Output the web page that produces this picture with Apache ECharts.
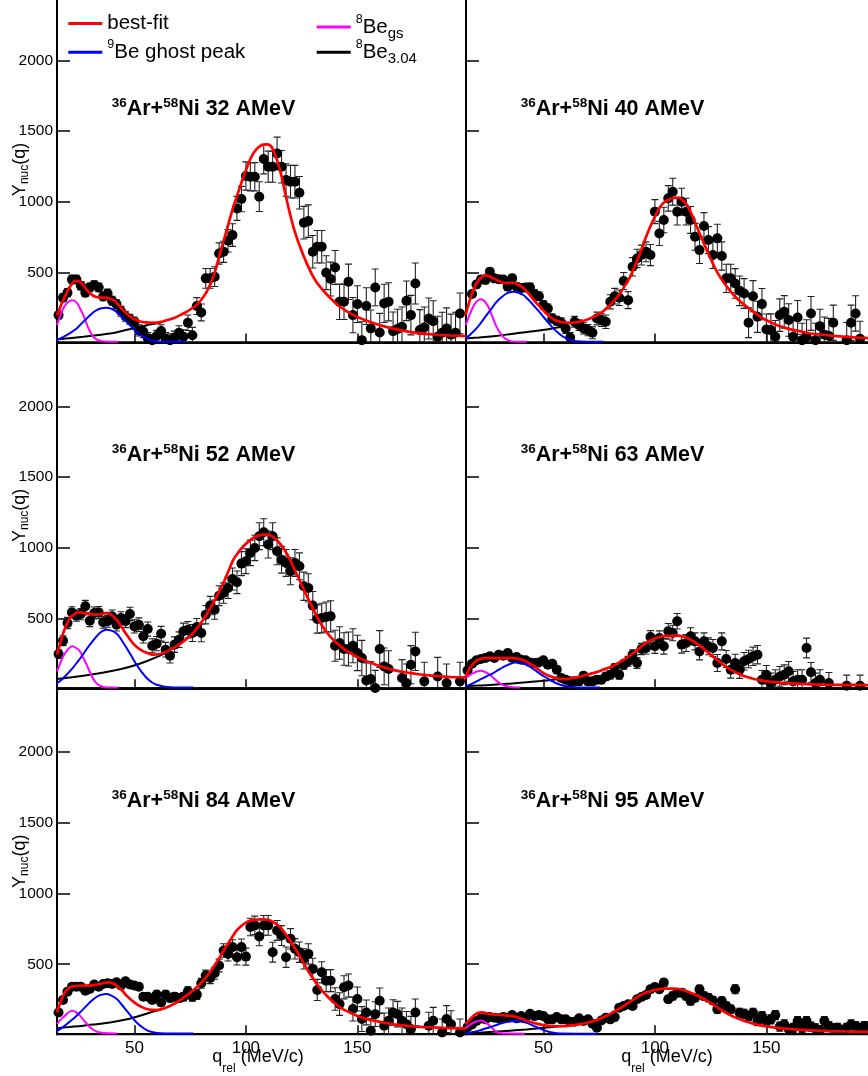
<!DOCTYPE html>
<html><head><meta charset="utf-8">
<script src="https://cdn.jsdelivr.net/npm/echarts@6/dist/echarts.min.js"></script>
<style>html,body{margin:0;padding:0;background:#fff}#c{width:868px;height:1076px}</style>
</head><body><div id="c"></div>
<script>
// ---------- DATA ----------
const energies = ['32', '40', '52', '63', '84', '95'];
const xTicks = [50, 100, 150];
const yTicks = [500, 1000, 1500, 2000];
const qRel = [16,18,20,22,24,26,28,30,32,34,36,38,40,42,44,46,48,50,52,54,56,58,60,62,64,66,68,70,72,74,76,78,80,82,84,86,88,90,92,94,96,98,100,102,104,106,108,110,112,114,116,118,120,122,124,126,128,130,132,134,136,138,140,142,144,146,148,150,152,154,156,158,160,162,164,166,168,170,172,174,176,178,180,182,184,186,188,190,192,194,196];

const y32 = [198,321,356,450,450,406,356,394,410,394, 330,350,300,275,225,190,168,150,90,80, 35,20,50,85,30,20,40,73,45,144, 56,262,217,458,458,470,634,646,724,764, 953,1019,1182,1177,1177,1036,1302,1248,1248,1342, 1248,1154,1142,1142,1064,852,863,646,682,682, 498,453,535,292,292,434,198,276,21,262, 104,394,75,281,292,85,100,115,299,198, 422,92,110,174,155,45,73,104,60,73, 210];
const e32 = [25,28,28,30,30,30,28,30,30,30, 30,32,32,32,35,35,35,35,40,40, 40,40,40,45,45,45,45,50,50,55, 55,60,60,70,70,70,75,75,80,80, 85,90,100,100,100,105,105,110,110,115, 115,115,115,115,115,115,115,115,115,115, 120,120,120,125,125,125,125,130,130,130, 130,130,135,135,135,135,140,140,140,140, 145,145,145,145,145,145,145,145,145,145, 145];

const y40 = [null,347,415,450,446,505,458,452,450,399, 458,399,390,394,394,347,332,269,245,174, 158,144,104,40,151,127,104,92,73,174, 163,151,292,332,321,439,304,540,599,623, 646,623,930,776,871,1024,1071,930,1000,930, 871,752,658,828,729,623,741,616,458,458, 422,370,351,144,332,186,276,96,92,45, 198,221,163,45,181,21,45,210,21,120, 60,50,144,null,null,21,144,210,30,null, null];
const e40 = [22,22,24,25,25,25,25,25,25,25, 25,25,28,28,30,30,30,30,32,32, 32,35,35,35,38,38,40,40,42,45, 45,48,50,55,55,60,60,65,65,70, 70,75,85,85,90,90,95,95,95,95, 95,95,95,95,95,95,100,100,100,100, 105,105,105,105,110,110,110,110,115,115, 115,115,115,115,120,120,120,120,120,120, 125,125,125,125,125,125,125,125,125,125, 125];

const y52 = [247,342,467,542,519,530,585,483,538,542, 472,479,514,455,502,479,531,443,455,373, 424,306,321,391,278,236,314,349,408,420, 396,439,396,526,590,561,660,679,715,778, 755,887,904,963,998,1081,1109,1022,1081,974, 915,892,833,892,868,727,715,590,495,502, 510,514,306,325,283,283,306,255,219,60, 70,7,283,160,141,null,null,78,42,172, 266,null,54,null,null,89,null,42,null,null, 54];
const e52 = [30,35,40,40,40,40,42,42,42,42, 42,42,45,45,45,45,47,47,48,48, 50,50,50,52,52,52,55,55,58,58, 60,60,62,65,65,68,70,72,75,78, 80,85,88,90,90,95,95,95,95,95, 95,95,95,95,95,100,100,100,100,105, 105,110,110,115,115,120,120,125,125,125, 125,125,130,130,130,130,130,130,135,135, 135,135,135,135,135,135,135,135,135,135, 135];

const y63 = [132,179,203,212,219,231,219,243,236,255, 219,226,207,203,188,184,188,203,172,179, 137,78,66,54,54,54,94,54,54,66, 66,89,101,148,101,172,196,243,184,283, 290,368,302,361,302,408,396,479,314,325, 373,337,266,337,302,290,184,337,212,137, 184,137,196,212,231,243,66,101,42,66, 89,101,125,54,66,66,290,118,42,66, null,42,null,null,null,23,null,null,23,null, null];
const e63 = [15,18,18,20,20,20,20,20,20,20, 20,20,20,20,20,20,20,20,22,22, 22,22,22,22,22,25,25,25,25,25, 28,28,30,30,32,32,35,35,38,40, 42,45,50,50,55,55,55,55,60,60, 60,60,60,60,60,60,60,60,60,60, 62,62,62,62,65,65,65,65,70,70, 70,70,70,70,70,70,70,70,70,70, 75,75,75,75,75,75,75,75,75,75, 75];

const y84 = [159,247,306,341,341,341,313,325,356,341, 360,365,360,372,349,379,356,349,341,270, 270,247,285,230,285,261,270,261,270,308, 270,285,365,420,403,436,491,597,573,621, 550,621,554,763,775,696,775,775,585,739, 703,550,680,609,585,538,573,467,318,443, 384,384,254,218,337,349,183,254,112,159, 29,147,242,65,100,159,147,100,76,41, 159,null,null,65,100,null,17,112,76,null, 17];
const e84 = [18,20,22,22,22,22,22,22,22,22, 22,22,22,22,22,22,22,22,22,22, 25,25,25,25,25,28,28,30,30,32, 32,35,35,38,40,42,45,48,50,52, 55,58,60,62,65,65,70,70,70,70, 70,72,72,72,72,72,72,75,75,75, 78,78,80,80,82,82,85,85,88,88, 88,88,90,90,90,90,90,90,90,90, 95,95,95,95,95,95,95,95,95,95, 95];

const y95 = [55,74,98,117,110,126,121,117,126,121, 140,117,133,121,150,133,140,133,110,110, 126,110,110,93,93,117,98,110,79,50, 102,121,110,126,192,204,216,204,252,268, 282,323,339,323,370,252,275,299,299,275, 240,263,323,275,263,244,181,240,204,181, 323,157,150,133,157,98,133,98,110,140, 59,74,42,50,98,50,98,59,47,35, 98,62,47,50,35,50,74,62,50,62, null];
const e95 = [10,10,12,12,12,12,12,12,12,12, 12,12,12,12,12,12,12,12,12,12, 12,12,12,12,12,12,12,12,12,14, 14,14,14,15,18,18,20,20,22,22, 22,25,25,25,25,25,28,28,28,28, 28,28,28,28,28,28,28,28,28,30, 32,32,32,32,32,32,32,32,32,32, 32,32,32,32,32,32,32,32,32,32, 32,32,32,32,32,32,32,32,32,32, 32];

// curves: [q, Y]
const fit32 = [[15.3,195],[17,265],[18.1,304],[19,335],[20.4,380],[22,420],[23.4,439],[25,438],[26.5,420],[28.6,378],[30,355],[31.6,335],[33,326],[34.6,323],[36,322],[37.6,320],[39,315],[40.6,304],[42,285],[43.6,257],[45,233],[46.5,210],[48,192],[49.5,174],[51,163],[52.5,153],[55.5,146],[58.5,144],[60,145],[61.5,148],[64.5,162],[67.5,176],[70.5,198],[73.4,221],[76.4,252],[78,270],[79.4,295],[82.4,363],[85.4,469],[88.4,634],[91.4,800],[94.4,965],[97.4,1106],[100.3,1236],[103.3,1342],[106.3,1394],[109.3,1406],[110.5,1403],[112.3,1366],[115.3,1224],[118.3,1012],[121.3,823],[124.3,682],[127.3,564],[130.2,469],[133.2,399],[137.7,321],[142.2,257],[148.2,198],[154.2,158],[161.6,120],[169.1,92],[176.6,73],[184.1,61],[191.5,54],[198.7,49]];
const ghost32 = [[15.3,21],[17.5,38],[19.6,56],[22,80],[24.1,104],[26.4,140],[28.6,174],[31,210],[33.1,233],[35.2,246],[37.3,250],[39.7,243],[42.1,221],[44.3,188],[46.5,151],[48.8,113],[51,80],[53.3,53],[55.5,33],[57.8,18],[60,12],[64.5,10],[73,10]];
const gs32 = [[15.3,127],[16.5,180],[18.1,245],[19.5,280],[20.4,292],[22.2,304],[23.3,298],[24.4,280],[25.8,240],[27.1,198],[28.3,150],[29.4,104],[30.5,72],[31.6,45],[33,27],[34.6,16],[37,11],[39.1,10],[42.8,10]];
const ex32 = [[15.3,26],[21,35],[27.1,45],[33,56],[39.1,68],[44,84],[49.5,104],[55,125],[60,140],[62,148]];

const fit40 = [[15.1,198],[17,304],[18.5,370],[20,422],[22,462],[23.8,481],[25.5,475],[27.5,458],[30,440],[32,427],[34,425],[36.5,427],[38.5,415],[40.2,399],[42,375],[44,340],[46,300],[48.5,257],[51,215],[53,186],[55,165],[57.5,151],[60,145],[61.9,144],[64,146],[66.4,151],[68.5,160],[70.9,174],[73,190],[75.4,210],[77.5,235],[79.9,269],[82,305],[84.4,351],[86.5,405],[88.9,469],[91,545],[93.4,635],[95.5,730],[97.9,823],[100,895],[102.4,965],[104.5,1000],[106.9,1019],[108.5,1027],[110.6,1029],[112.5,1010],[114.4,977],[116.5,910],[118.8,823],[121,740],[123.3,658],[125.5,580],[127.8,505],[130,450],[132.3,399],[134.5,355],[136.8,316],[139,285],[141.3,257],[144,225],[147.3,186],[151,155],[154.8,127],[158.5,108],[162.3,92],[166,80],[169.7,68],[173.5,62],[177.2,56],[181,50],[184.7,45],[189,41],[193.7,37],[197,36]];
const ghost40 = [[15.1,33],[17.5,65],[20,104],[22.3,150],[24.5,198],[26.8,245],[29,292],[31.2,325],[33.5,351],[35,360],[36.5,363],[38.5,358],[41,340],[43.2,308],[45.5,269],[47.8,228],[50,186],[52.2,145],[54.5,104],[56.7,72],[58.9,45],[61.2,27],[63.5,16],[66.4,11],[69.4,10],[77,10]];
const gs40 = [[15.1,127],[16.8,195],[18.5,257],[20.1,295],[21.8,311],[23.5,298],[25.3,257],[27.2,185],[29,115],[30.9,65],[32.8,33],[35.4,14],[38,10],[42.5,10]];
const ex40 = [[15.1,33],[21,40],[27.5,49],[33.5,60],[39.5,73],[45.5,84],[51.5,96],[55.5,108],[59,120],[61,128]];

const fit52 = [[15.3,243],[16.7,320],[18.1,396],[19.6,455],[21.1,502],[23,528],[24.9,542],[26.8,540],[28.6,533],[31,528],[33.1,526],[35.3,530],[37.6,538],[39.5,525],[41.3,502],[43.2,465],[45,420],[47.2,370],[49.5,321],[51.8,288],[54,266],[56.3,252],[58.5,243],[60.8,246],[63,255],[65.2,270],[67.5,290],[69.8,312],[72,337],[74.2,365],[76.4,396],[78.6,440],[80.9,491],[83.2,548],[85.4,609],[87.6,678],[89.9,750],[92.2,835],[94.4,915],[96.7,968],[98.9,1010],[101.1,1042],[103.3,1069],[105.6,1085],[107.8,1092],[110,1093],[111.6,1081],[113.4,1060],[115.3,1029],[117.5,980],[119.8,915],[122,840],[124.3,762],[126.5,685],[128.8,609],[131,538],[133.2,472],[135.5,418],[137.7,373],[140,336],[142.2,306],[145,272],[148.2,243],[151,218],[154.2,196],[158,174],[161.6,155],[165,139],[169.1,125],[173,115],[176.6,106],[180.5,99],[184.1,94],[188,89],[191.5,85],[195,83],[198.7,82]];
const ghost52 = [[15.3,42],[17.5,68],[19.6,101],[21.9,140],[24.1,184],[26.4,232],[28.6,283],[30.9,330],[33.1,373],[35.2,405],[37.3,420],[39.7,413],[42.1,391],[44.3,345],[46.5,290],[48.8,230],[51,172],[53.3,120],[55.5,78],[57.8,48],[60,30],[63,18],[66,12],[70,10],[76.5,10]];
const gs52 = [[15.3,125],[16.7,180],[18.1,231],[20.2,280],[22.2,302],[23.9,290],[25.6,266],[27.1,220],[28.6,172],[30.1,118],[31.6,70],[33.1,40],[34.6,23],[36.8,12],[39.1,10],[42.8,10]];
const ex52 = [[15.3,70],[21,82],[27.1,94],[33,108],[39.1,125],[45,145],[51,172],[56,200],[61.5,236],[64,255]];

const fit63 = [[15.1,85],[16,115],[17,148],[18.5,178],[20,200],[21.8,213],[23.8,219],[27.5,219],[32,219],[36.5,219],[39,212],[41,203],[43.2,186],[45.5,165],[47.8,138],[50,113],[52.2,95],[54.5,82],[56.7,74],[58.9,70],[61.2,72],[63.5,78],[65.7,85],[67.9,94],[70.2,103],[72.4,113],[74.7,124],[76.9,137],[79.2,150],[81.4,165],[83.7,185],[85.9,207],[88.2,230],[90.4,255],[92.7,285],[94.9,314],[97.2,337],[99.4,354],[101.6,366],[103.9,373],[106.1,376],[108.4,377],[110.6,377],[112.5,371],[114.4,361],[116.6,343],[118.8,321],[121,295],[123.3,266],[125.5,236],[127.8,207],[130,180],[132.3,153],[134.5,132],[136.8,113],[139,98],[141.3,85],[144,73],[147.3,61],[151,53],[154.8,47],[158.5,42],[162.3,38],[170,33],[177.2,30],[186,29],[195.8,28]];
const ghost63 = [[15.1,19],[18.3,40],[21.5,66],[24.5,90],[27.5,113],[29.8,135],[32,155],[34.7,175],[37.3,188],[40,184],[42.5,172],[44.8,150],[47,125],[49.2,100],[51.5,78],[54.5,50],[57.5,30],[60.5,20],[63.5,14],[68,10],[75.4,10]];
const gs63 = [[15.1,78],[16.8,97],[18.5,113],[20.2,124],[21.8,129],[23.9,120],[26,101],[27.9,75],[29.8,47],[31.7,30],[33.5,19],[36.5,12],[39.5,10]];
const ex63 = [[15.1,19],[21,25],[27.5,30],[35,38],[42.5,47],[48.5,56],[54.5,66],[57,70]];

const fit84 = [[15.3,159],[16.7,225],[18.1,278],[19.6,315],[21.1,337],[23.4,346],[25.6,349],[27.8,349],[30.1,349],[32.4,354],[34.6,360],[36.5,368],[38.3,372],[40.2,365],[42.1,349],[44.3,318],[46.5,278],[48.8,245],[51,218],[53.3,198],[55.5,183],[57.8,177],[60,176],[62.3,183],[64.5,195],[66.8,211],[69,230],[71.2,253],[73.4,278],[75.7,306],[77.9,337],[80.2,372],[82.4,412],[84.7,462],[86.9,514],[89.2,574],[91.4,632],[93.7,688],[95.9,739],[98.2,774],[100.4,798],[102.6,810],[104.8,815],[107,817],[109.3,815],[110.8,810],[113,790],[115.3,763],[117.5,720],[119.8,668],[122,612],[124.3,550],[126.5,490],[128.8,431],[131,378],[133.2,330],[135.5,290],[137.7,254],[140,222],[142.2,195],[145,170],[148.2,147],[151,128],[154.2,112],[158,99],[161.6,88],[165,78],[169.1,69],[173,63],[176.6,58],[180.5,55],[184.1,53],[188,50],[191.5,48],[195,46],[198.7,45]];
const ghost84 = [[15.3,29],[17.5,50],[19.6,76],[21.9,105],[24.1,136],[26.4,172],[28.6,207],[30.9,243],[33.1,270],[35.2,284],[37.3,289],[39.7,278],[42.1,254],[44.3,215],[46.5,171],[48.8,128],[51,88],[53.3,57],[55.5,34],[57.8,20],[60,13],[64,10],[70,10],[76.5,10]];
const gs84 = [[15.3,76],[17,110],[18.9,136],[20.5,160],[22.2,171],[23.9,160],[25.6,136],[27.5,100],[29.4,65],[31.2,40],[33.1,24],[35.3,15],[37.6,11],[42.1,10]];
const ex84 = [[15.3,48],[21,56],[27.1,65],[33,76],[39.1,88],[45,105],[51,129],[55.5,150],[60,172],[62,180]];

const fit95 = [[15.1,74],[16.5,100],[17.8,121],[19.3,142],[20.8,157],[22.3,160],[23.8,157],[25.6,150],[27.5,145],[29.7,142],[32,140],[34.2,137],[36.5,133],[38.7,123],[41,110],[43.2,97],[45.5,86],[47.8,76],[50,69],[52.2,65],[54.5,62],[56.7,61],[58.9,62],[61.2,65],[63.5,69],[65.7,74],[67.9,79],[70.2,88],[72.4,98],[74.7,111],[76.9,126],[79.2,143],[81.4,162],[83.7,183],[85.9,204],[88.2,228],[90.4,252],[92.7,273],[94.9,292],[97.2,305],[99.4,315],[101.6,322],[103.9,327],[106.1,328],[108.4,327],[111.4,323],[113.6,313],[115.9,299],[118.1,285],[120.3,268],[122.6,248],[124.8,228],[127,205],[129.3,181],[131.5,160],[133.8,140],[136,124],[138.3,110],[140.5,97],[142.8,86],[145,76],[147.3,67],[151,58],[154.8,50],[158.5,44],[162.3,39],[170,32],[177.2,27],[186,24],[195.8,22]];
const ghost95 = [[15.1,10],[18.3,20],[21.5,32],[24.5,47],[27.5,62],[29.8,75],[32,86],[34.7,94],[37.3,98],[40,94],[42.5,86],[44.8,70],[47,55],[49.2,40],[51.5,27],[54.5,15],[57.5,10],[65,9],[74,9]];
const gs95 = [[15.1,46],[16.8,68],[18.5,86],[20.2,97],[21.8,102],[23.5,92],[25.3,74],[27.2,45],[29,22],[31.2,12],[33.5,10],[41.7,9]];
const ex95 = [[15.1,10],[21,16],[27.5,22],[35,30],[42.5,39],[48,47],[53,55],[56,60]];

// ---------- CHART ----------
const FONT = '"Liberation Sans", Arial, Helvetica, sans-serif';
const panels = [
  {y: y32, e: e32, fit: fit32, ghost: ghost32, gs: gs32, ex: ex32},
  {y: y40, e: e40, fit: fit40, ghost: ghost40, gs: gs40, ex: ex40},
  {y: y52, e: e52, fit: fit52, ghost: ghost52, gs: gs52, ex: ex52},
  {y: y63, e: e63, fit: fit63, ghost: ghost63, gs: gs63, ex: ex63},
  {y: y84, e: e84, fit: fit84, ghost: ghost84, gs: gs84, ex: ex84},
  {y: y95, e: e95, fit: fit95, ghost: ghost95, gs: gs95, ex: ex95}
];
const gridLefts = [57, 466], gridTops = [-3.5, 342.4, 688.3];
const GW = 409, GH = 345.9;
const X_MIN = 15.3, X_MAX = 198.7, Y_MIN = 5, Y_MAX = 2452;

function renderErr(params, api) {
  const x = api.value(0), y = api.value(1), e = api.value(2);
  const hi = api.coord([x, y + e]);
  const lo = api.coord([x, y - e]);
  const w = 3.5;
  const style = {stroke: '#222', lineWidth: 1.1};
  return {type: 'group', children: [
    {type: 'line', shape: {x1: hi[0], y1: hi[1], x2: lo[0], y2: lo[1]}, style: style},
    {type: 'line', shape: {x1: hi[0] - w, y1: hi[1], x2: hi[0] + w, y2: hi[1]}, style: style},
    {type: 'line', shape: {x1: lo[0] - w, y1: lo[1], x2: lo[0] + w, y2: lo[1]}, style: style}
  ]};
}

const grids = [], xAxes = [], yAxes = [], series = [], titles = [];
panels.forEach(function (p, i) {
  const col = i % 2, row = Math.floor(i / 2);
  const left = gridLefts[col], top = gridTops[row];
  grids.push({left: left, top: top, width: GW, height: GH, show: true, containLabel: false,
    outerBoundsMode: 'none',
    borderColor: '#000', borderWidth: 2, backgroundColor: 'transparent'});
  xAxes.push({
    gridIndex: i, type: 'value', min: X_MIN, max: X_MAX,
    axisLine: {show: true, onZero: false, lineStyle: {color: '#000', width: 2}},
    axisTick: {show: true, inside: true, length: 9, customValues: xTicks, lineStyle: {color: '#000', width: 1.5}},
    axisLabel: {show: row === 2, customValues: xTicks, margin: 6, fontSize: 17, color: '#000', fontFamily: FONT,
      formatter: function (v) { return String(v); }},
    splitLine: {show: false},
    name: row === 2 ? '{q|q}{sub|rel}{m| (MeV/c)}' : '',
    nameLocation: 'middle', nameGap: 14, nameMoveOverlap: false,
    nameTextStyle: {color: '#000', fontFamily: FONT, padding: [0, 7, 0, 0], rich: {
      q: {fontSize: 18, lineHeight: 20, verticalAlign: 'top', fontFamily: FONT, color: '#000'},
      m: {fontSize: 18, lineHeight: 20, verticalAlign: 'top', fontFamily: FONT, color: '#000'},
      sub: {fontSize: 12, lineHeight: 12, padding: [14, 0, 0, 0], verticalAlign: 'top', fontFamily: FONT, color: '#000'}
    }}
  });
  yAxes.push({
    gridIndex: i, type: 'value', min: Y_MIN, max: Y_MAX,
    axisLine: {show: true, onZero: false, lineStyle: {color: '#000', width: 2}},
    axisTick: {show: true, inside: true, length: 13, customValues: yTicks, lineStyle: {color: '#000', width: 1.5}},
    axisLabel: {show: col === 0, customValues: yTicks, margin: 4, fontSize: 15.5, color: '#000', fontFamily: FONT,
      formatter: function (v) { return String(v); }},
    splitLine: {show: false},
    name: col === 0 ? '{m|Y}{sub|nuc}{m|(q)}' : '',
    nameLocation: 'middle', nameGap: 26, nameRotate: 90, nameMoveOverlap: false,
    nameTextStyle: {color: '#000', fontFamily: FONT, rich: {
      m: {fontSize: 18, lineHeight: 22, fontFamily: FONT, color: '#000'},
      sub: {fontSize: 12, lineHeight: 12, verticalAlign: 'bottom', fontFamily: FONT, color: '#000'}
    }}
  });
  titles.push({
    left: left + 54.7, top: top + 100, padding: 0,
    text: '{s|36}{b|Ar+}{s|58}{b|Ni ' + energies[i] + ' AMeV}',
    textStyle: {rich: {
      b: {fontSize: 21.5, fontWeight: 'bold', lineHeight: 26, fontFamily: FONT, color: '#000'},
      s: {fontSize: 13.5, fontWeight: 'bold', lineHeight: 10.5, verticalAlign: 'top', fontFamily: FONT, color: '#000'}
    }}
  });
  const pts = [], errs = [];
  qRel.forEach(function (q, k) {
    if (p.y[k] !== null) { pts.push([q, p.y[k]]); errs.push([q, p.y[k], p.e[k]]); }
  });
  series.push({type: 'custom', xAxisIndex: i, yAxisIndex: i, data: errs, renderItem: renderErr, clip: true, silent: true, z: 2});
  series.push({type: 'scatter', xAxisIndex: i, yAxisIndex: i, data: pts, symbol: 'circle', symbolSize: 10,
    itemStyle: {color: '#000', opacity: 1}, silent: true, z: 3});
  const lines = [
    {name: 'ex', d: p.ex, c: '#000000', w: 2},
    {name: 'gs', d: p.gs, c: '#ff00ff', w: 2},
    {name: 'ghost', d: p.ghost, c: '#0000ff', w: 2},
    {name: 'fit', d: p.fit, c: '#ff0000', w: 2.7}
  ];
  lines.forEach(function (l, k) {
    series.push({type: 'line', name: l.name, xAxisIndex: i, yAxisIndex: i, data: l.d, smooth: 0.4,
      symbol: 'none', color: l.c, itemStyle: {color: l.c}, lineStyle: {color: l.c, width: l.w},
      silent: true, z: 4 + k, clip: true});
  });
});

const legendRich = {
  m: {fontSize: 20.5, lineHeight: 28, fontFamily: FONT, color: '#000'},
  sup: {fontSize: 12.5, lineHeight: 11, verticalAlign: 'top', fontFamily: FONT, color: '#000'},
  sub: {fontSize: 15, lineHeight: 11, verticalAlign: 'bottom', fontFamily: FONT, color: '#000'}
};
const legendText = {
  fit: '{m|best-fit}',
  ghost: '{sup|9}{m|Be ghost peak}',
  gs: '{sup|8}{m|Be}{sub|gs}',
  ex: '{sup|8}{m|Be}{sub|3.04}'
};
function mkLegend(name, left, top) {
  return {data: [name], left: left, top: top, padding: 0, icon: 'rect', itemWidth: 34, itemHeight: 3,
    selectedMode: false, formatter: function (n) { return legendText[n]; },
    textStyle: {color: '#000', fontFamily: FONT, rich: legendRich}};
}

const option = {
  animation: false,
  backgroundColor: '#fff',
  textStyle: {fontFamily: FONT},
  grid: grids, xAxis: xAxes, yAxis: yAxes, title: titles,
  legend: [mkLegend('fit', 68.3, 13), mkLegend('ghost', 68.3, 38.3), mkLegend('gs', 316.7, 13), mkLegend('ex', 316.7, 38.3)],
  series: series
};
const chart = echarts.init(document.getElementById('c'), null, {renderer: 'canvas'});
chart.setOption(option);
</script>
</body></html>
